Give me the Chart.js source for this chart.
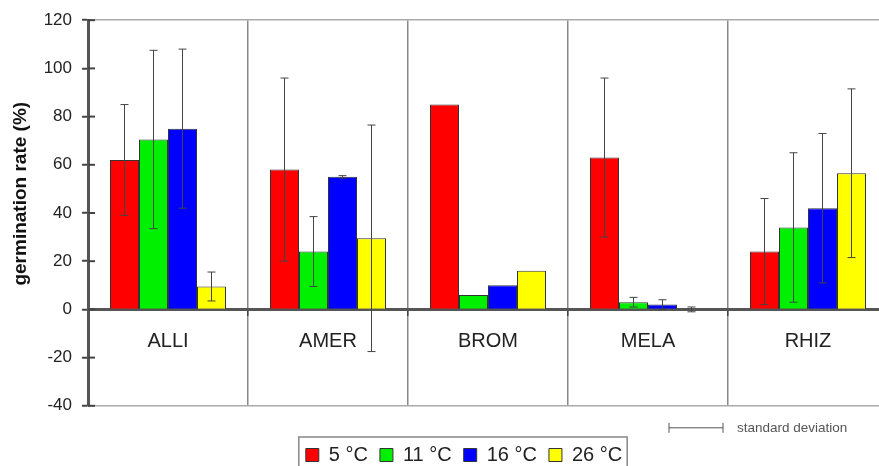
<!DOCTYPE html>
<html>
<head>
<meta charset="utf-8">
<script src="https://cdn.jsdelivr.net/npm/chart.js@4"></script>
<style>
  html, body { margin: 0; padding: 0; background: #fff; overflow: hidden; }
  #wrap { width: 924px; height: 466px; }
</style>
</head>
<body>
<div id="wrap"><canvas id="grafico"></canvas></div>
<script>
const categories = ['ALLI', 'AMER', 'BROM', 'MELA', 'RHIZ'];
const seriesLabels = ['5 °C', '11 °C', '16 °C', '26 °C'];
const seriesColors = ['#ff0000', '#00f000', '#0000ff', '#ffff00'];

const rate5 = [62, 58, 85, 63, 24];
const rate11 = [70.5, 24, 6, 3, 34];
const rate16 = [75, 55, 10, 2, 42];
const rate26 = [9.5, 29.5, 16, 0, 56.5];

const sd5 = [23, 38, 0, 33, 22];
const sd11 = [37, 14.5, 0, 2, 31];
const sd16 = [33, 0.5, 0, 2, 31];
const sd26 = [6, 47, 0, 1, 35];

const yMin = -40, yMax = 120, yStep = 20;
const yTitle = 'germination rate (%)';

const rates = [rate5, rate11, rate16, rate26];
const sds = [sd5, sd11, sd16, sd26];
const font = '"Liberation Sans", Arial, sans-serif';

// barras de error (desviación estándar)
const errorBars = {
    id: 'errorBars',
    afterDatasetsDraw(chart) {
        const ctx = chart.ctx;
        const y = chart.scales.y;
        ctx.save();
        ctx.strokeStyle = '#444';
        ctx.lineWidth = 1;
        chart.data.datasets.forEach((ds, i) => {
            chart.getDatasetMeta(i).data.forEach((bar, j) => {
                const sd = sds[i][j];
                if (!sd) return;
                const v = ds.data[j];
                const top = y.getPixelForValue(v + sd);
                const bot = y.getPixelForValue(v - sd);
                ctx.beginPath();
                ctx.moveTo(bar.x, top); ctx.lineTo(bar.x, bot);
                ctx.moveTo(bar.x - 4, top); ctx.lineTo(bar.x + 4, top);
                ctx.moveTo(bar.x - 4, bot); ctx.lineTo(bar.x + 4, bot);
                ctx.stroke();
            });
        });
        ctx.restore();
    }
};

// marcas del eje y, titulo del eje, caja de leyenda y nota "standard deviation"
const extras = {
    id: 'extras',
    afterLayout(chart) {
        // la leyenda va centrada un poco mas a la derecha
        chart.legend.left += 20;
        chart.legend.right += 20;
    },
    afterDraw(chart) {
        const ctx = chart.ctx;
        const y = chart.scales.y;
        const area = chart.chartArea;
        ctx.save();
        ctx.strokeStyle = '#444';
        ctx.lineWidth = 2;
        y.ticks.forEach(t => {
            const py = y.getPixelForValue(t.value);
            ctx.beginPath();
            ctx.moveTo(area.left, py);
            ctx.lineTo(area.left + 7, py);
            ctx.stroke();
        });

        ctx.save();
        ctx.translate(21, area.top + (area.bottom - area.top) * 0.45);
        ctx.rotate(-Math.PI / 2);
        ctx.fillStyle = '#111';
        ctx.font = 'bold 19px ' + font;
        ctx.textAlign = 'center';
        ctx.textBaseline = 'middle';
        ctx.fillText(yTitle, 0, 0);
        ctx.restore();

        const hb = chart.legend.legendHitBoxes;
        if (hb.length) {
            const l = Math.min(...hb.map(h => h.left)) - 7;
            const r = Math.max(...hb.map(h => h.left + h.width)) + 5;
            const t = hb[0].top - 8;
            ctx.strokeStyle = '#888';
            ctx.lineWidth = 1.5;
            ctx.strokeRect(l, t, r - l, chart.height - t + 10);
        }

        const sy = area.bottom + 22;
        const sx = chart.scales.x.getPixelForValue(3) + 21;
        ctx.strokeStyle = '#555';
        ctx.lineWidth = 1;
        ctx.beginPath();
        ctx.moveTo(sx, sy); ctx.lineTo(sx + 54, sy);
        ctx.moveTo(sx, sy - 5); ctx.lineTo(sx, sy + 5);
        ctx.moveTo(sx + 54, sy - 5); ctx.lineTo(sx + 54, sy + 5);
        ctx.stroke();
        ctx.fillStyle = '#555';
        ctx.font = '13.5px ' + font;
        ctx.textBaseline = 'middle';
        ctx.fillText('standard deviation', sx + 68, sy);
        ctx.restore();
    }
};

const ctx = document.getElementById('grafico').getContext('2d');
const chart = new Chart(ctx, {
    type: 'bar',
    data: {
        labels: categories,
        datasets: seriesLabels.map((label, i) => ({
            label: label,
            data: rates[i],
            backgroundColor: seriesColors[i],
            borderColor: '#333',
            borderWidth: 1,
            categoryPercentage: 0.725,
            barPercentage: 1
        }))
    },
    plugins: [errorBars, extras],
    options: {
        responsive: true,
        maintainAspectRatio: false,
        animation: false,
        layout: { padding: { top: 20, right: 36, left: 0, bottom: -9 } },
        plugins: {
            tooltip: { enabled: false },
            legend: {
                position: 'bottom',
                title: {
                    display: true,
                    text: ' ',
                    font: { size: 1 },
                    padding: { top: 26, bottom: 0 }
                },
                labels: {
                    color: '#222',
                    font: { family: font, size: 20 },
                    boxWidth: 13,
                    boxHeight: 13,
                    padding: 12
                }
            }
        },
        scales: {
            x: {
                position: { y: 0 },
                offset: true,
                grid: {
                    offset: true,
                    color: '#888',
                    lineWidth: 1.5,
                    tickColor: '#444',
                    tickLength: 5
                },
                border: { display: true, color: '#555', width: 3 },
                ticks: {
                    color: '#222',
                    font: { family: font, size: 20 },
                    padding: 15
                }
            },
            y: {
                min: yMin,
                max: yMax,
                afterFit(scale) { scale.width = 88; },
                ticks: {
                    stepSize: yStep,
                    color: '#222',
                    font: { family: font, size: 17 },
                    padding: 10
                },
                grid: {
                    color: c => (c.tick && (c.tick.value === yMax || c.tick.value === yMin)) ? '#aaa' : 'rgba(0,0,0,0)',
                    lineWidth: 1.5,
                    tickColor: '#444',
                    tickWidth: 2,
                    tickLength: 6
                },
                border: { display: true, color: '#555', width: 3 }
            }
        }
    }
});
</script>
</body>
</html>
